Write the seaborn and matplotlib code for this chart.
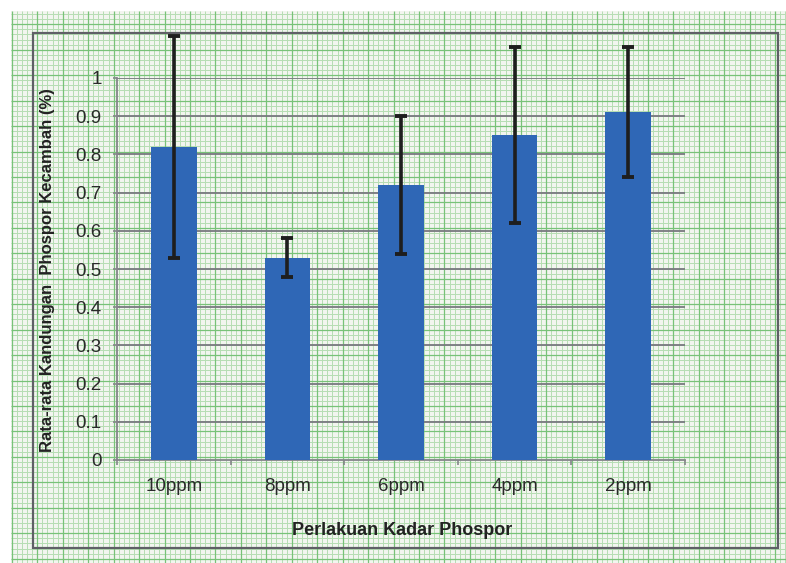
import numpy as np
import pandas as pd
import matplotlib
matplotlib.use("Agg")
import matplotlib.pyplot as plt
from matplotlib.patches import Rectangle
import seaborn as sns

# Data
categories = ["10ppm", "8ppm", "6ppm", "4ppm", "2ppm"]
mean_values = [0.82, 0.53, 0.72, 0.85, 0.91]
error_values = [0.29, 0.05, 0.18, 0.23, 0.17]
y_ticks = [0, 0.1, 0.2, 0.3, 0.4, 0.5, 0.6, 0.7, 0.8, 0.9, 1.0]
y_tick_labels = ["0", "0.1", "0.2", "0.3", "0.4", "0.5", "0.6", "0.7", "0.8", "0.9", "1"]

sns.set_style("ticks")
plt.rcParams["font.family"] = ["Liberation Sans", "DejaVu Sans"]

W, H = 786, 563
fig = plt.figure(figsize=(W / 100, H / 100), dpi=100)
fig.patch.set_facecolor("white")

# Graph-paper background in pixel coordinates
bg = fig.add_axes([0, 0, 1, 1], zorder=-10)
bg.set_xlim(0, W)
bg.set_ylim(H, 0)
bg.axis("off")
paper_x0, paper_y0 = 11, 11
bg.add_patch(Rectangle((paper_x0, paper_y0), W - paper_x0, H - paper_y0,
                       facecolor="#f2f5ef", edgecolor="none", zorder=0))
minor_col, major_col = "#b6ddb3", "#78c278"
step = 5.09
xs = 11.8 + step * np.arange(0, 160)
xs = xs[(xs >= paper_x0) & (xs <= W)]
for i, x in enumerate(xs):
    major = i % 5 == 0
    bg.plot([x, x], [paper_y0, H], color=major_col if major else minor_col,
            lw=0.9 if major else 0.7, solid_capstyle="butt", zorder=2 if major else 1)
ys = -1.2 + step * np.arange(0, 120)
for i, y in enumerate(ys):
    if y < paper_y0 or y > H:
        continue
    major = i % 5 == 0
    bg.plot([paper_x0, W], [y, y], color=major_col if major else minor_col,
            lw=0.9 if major else 0.7, solid_capstyle="butt", zorder=2 if major else 1)
# Chart frame
bg.add_patch(Rectangle((33, 33), 778 - 33, 548 - 33, facecolor="none",
                       edgecolor="#5f5f66", lw=1.6, zorder=5))

# Plot area
left, right, top, bottom = 117, 685, 78, 460
ax = fig.add_axes([left / W, (H - bottom) / H, (right - left) / W, (bottom - top) / H])
ax.set_facecolor("none")

df = pd.DataFrame({"kadar": categories, "nilai": mean_values})
sns.barplot(data=df, x="kadar", y="nilai", color="#2f67b6", saturation=1,
            width=0.4, ax=ax, zorder=3, errorbar=None, edgecolor="none", linewidth=0)
ax.errorbar(np.arange(len(categories)), mean_values, yerr=error_values,
            fmt="none", ecolor="#1e1e1e", elinewidth=2.6, capsize=4,
            capthick=2.8, zorder=4, clip_on=False)

ax.set_ylim(0, 1)
ax.set_xlim(-0.5, len(categories) - 0.5)
ax.set_yticks(y_ticks)
ax.set_yticklabels(y_tick_labels)
for y in y_ticks[1:]:
    ax.axhline(y, color="#78787f", lw=1.3, zorder=1)

for side in ["top", "right"]:
    ax.spines[side].set_visible(False)
for side in ["left", "bottom"]:
    ax.spines[side].set_color("#85858a")
    ax.spines[side].set_linewidth(1.3)

ax.set_xticks(np.arange(-0.5, len(categories)), minor=True)
ax.tick_params(axis="x", which="major", length=0, pad=13, labelsize=13.5, labelcolor="#2a2a2a")
ax.tick_params(axis="x", which="minor", length=3.5, width=1.2, color="#85858a", direction="out")
ax.tick_params(axis="y", which="major", length=3, width=1.2, color="#85858a", pad=8,
               labelsize=13.5, labelcolor="#2a2a2a")

ax.set_xlabel("Perlakuan Kadar Phospor", fontsize=13, fontweight="bold", color="#222222")
ax.set_ylabel("Rata-rata Kandungan  Phospor Kecambah (%)", fontsize=12, fontweight="bold",
              color="#222222")
ax.xaxis.set_label_coords((402 - left) / (right - left), (bottom - 522) / (bottom - top))
ax.yaxis.set_label_coords((55 - left) / (right - left), (bottom - 270) / (bottom - top))

fig.savefig("out.png", dpi=100)
